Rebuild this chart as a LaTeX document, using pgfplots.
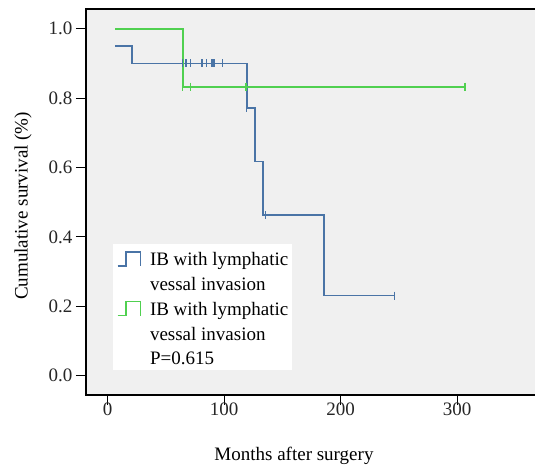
\documentclass[border=0pt]{standalone}
\usepackage{pgfplots}
\pgfplotsset{compat=1.18}
\usepackage{fontspec}
\setmainfont{Liberation Serif}
\definecolor{kmblue}{RGB}{74,116,166}
\definecolor{kmgreen}{RGB}{80,208,80}
\definecolor{bggray}{RGB}{240,240,240}
\begin{document}
\begin{tikzpicture}
\path[use as bounding box] (-86pt,-77pt) rectangle (449pt,395pt);
\begin{axis}[
  at={(0pt,0pt)}, anchor=south west,
  scale only axis,
  width=451pt, height=386pt,
  xmin=-18.6, xmax=368.5,
  ymin=-0.0557, ymax=1.0568,
  axis background/.style={fill=bggray},
  axis line style={black, line width=1.1pt},
  xtick={0,100,200,300},
  ytick={0,0.2,0.4,0.6,0.8,1.0},
  xtick pos=left, ytick pos=left,
  tick align=outside,
  major tick length=10pt,
  tick style={black, line width=0.9pt},
  /pgf/number format/assume math mode=true,
  yticklabel style={/pgf/number format/.cd, fixed, fixed zerofill, precision=1},
  every tick label/.append style={font=\fontsize{19}{23}\selectfont, text=black!85},
  xticklabel style={yshift=6pt},
  label style={font=\fontsize{19}{23}\selectfont},
  xlabel={Months after surgery},
  ylabel={Cumulative survival (\%)},
  xlabel style={at={(axis description cs:0.4612,-0.1684)}, anchor=base},
  ylabel style={at={(axis description cs:-0.1397,0.49)}, anchor=center},
  legend style={at={(axis description cs:0.0592,0.3912)}, anchor=north west,
    draw=none, fill=white, inner xsep=4pt, inner ysep=0pt,
    font=\fontsize{19}{24.7}\selectfont,
    nodes={inner xsep=0pt, inner ysep=0pt, text height=21.7pt, text depth=5pt},
    row sep=-2pt, column sep=9pt},
  legend cell align=left,
  legend image code/.code={\draw[#1, mark=none, line width=1.5pt] (0pt,-8.6pt) -- (8.3pt,-8.6pt) -- (8.3pt,5.4pt) -- (22.6pt,5.4pt) -- (22.6pt,-8.6pt);},
]
% Blue group
\addplot[kmblue, line width=1.8pt, const plot, mark=none] coordinates {
  (6.3,0.95) (20.6,0.90) (119.3,0.772) (126.2,0.617) (133.3,0.463) (186,0.231) (246,0.231)
};
\addlegendentry{IB with lymphatic}
\addlegendimage{empty legend}
\addlegendentry{vessal invasion}
% Green group
\addplot[kmgreen, line width=1.8pt, const plot, mark=none] coordinates {
  (6.3,1.0) (64.4,0.833) (306.7,0.833)
};
\addlegendentry{IB with lymphatic}
\addlegendimage{empty legend}
\addlegendentry{vessal invasion}
\addlegendimage{empty legend}
\addlegendentry{P=0.615}
% censor marks blue
\addplot[kmblue, only marks, mark=|, mark size=4pt, line width=1.4pt, forget plot] coordinates {
  (64.4,0.90) (66.6,0.90) (67.8,0.90) (71.2,0.90) (80.3,0.90) (81.5,0.90)
  (85,0.90) (89.5,0.90) (91.3,0.90) (98.7,0.90)
  (119.3,0.772) (135.3,0.463) (246,0.231)
};
% censor marks green
\addplot[kmgreen, only marks, mark=|, mark size=4pt, line width=1.4pt, forget plot] coordinates {
  (64.4,0.833) (71.2,0.833) (118.7,0.833) (306.7,0.833)
};
\end{axis}
\end{tikzpicture}
\end{document}
